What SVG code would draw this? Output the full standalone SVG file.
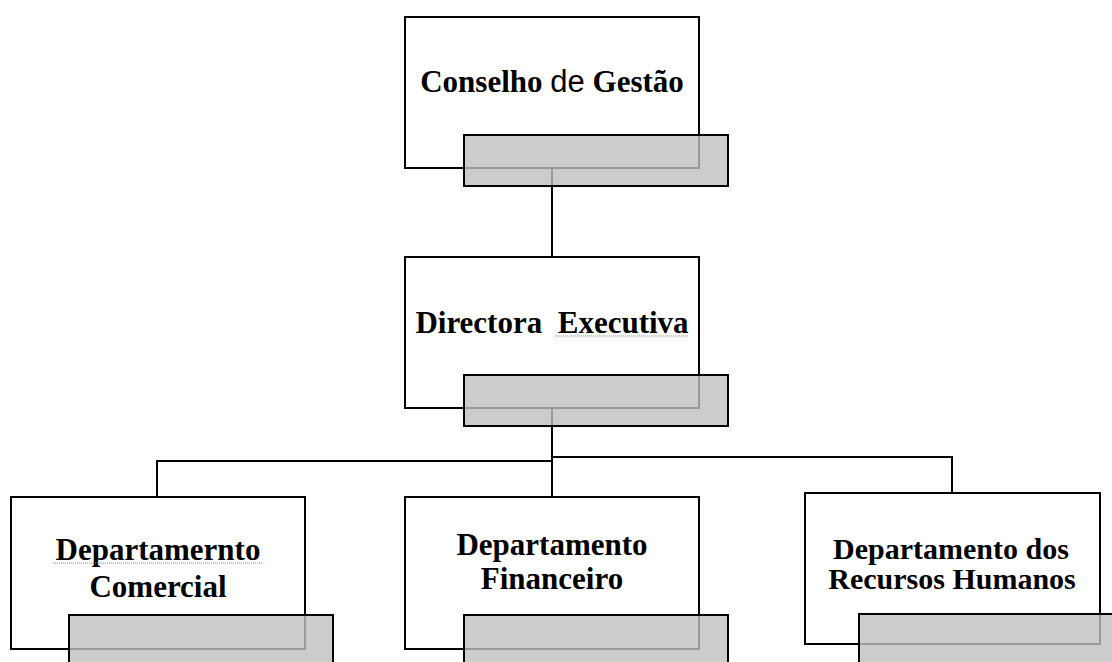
<svg xmlns="http://www.w3.org/2000/svg" width="1112" height="662" viewBox="0 0 1112 662">
<style>
.box{fill:#ffffff;stroke:#000;stroke-width:2}
.tab{fill:#bfbfbf;fill-opacity:0.8;stroke:#000;stroke-width:2}
.conn{fill:none;stroke:#000;stroke-width:2}
.lbl{font-family:"Liberation Serif","Times New Roman",serif;font-weight:bold;font-size:31px;fill:#000;text-anchor:middle}
.sm{font-size:30px}
.sans{font-family:"Liberation Sans",Arial,sans-serif;font-weight:normal}
.spell{stroke:#f06060;stroke-width:1.2;stroke-dasharray:1 1;fill:none}
</style>
<rect width="1112" height="662" fill="#ffffff"/>
<g id="connectors">
<path class="conn" d="M552 168 V257"/>
<path class="conn" d="M552 408 V497"/>
<path class="conn" d="M552 461 H157 V497"/>
<path class="conn" d="M552 457 H952 V493"/>
</g>
<g id="conselho">
<rect class="box" x="405" y="17" width="294" height="151"/>
<text class="lbl" x="552" y="92">Conselho <tspan class="sans">de</tspan> Gestão</text>
<rect class="tab" x="464" y="135" width="264" height="51"/>
</g>
<g id="directora">
<rect class="box" x="405" y="257" width="294" height="151"/>
<text class="lbl" x="552" y="333" xml:space="preserve">Directora  Executiva</text>
<path class="spell" d="M555 336 H688"/>
<rect class="tab" x="464" y="375" width="264" height="51"/>
</g>
<g id="comercial">
<rect class="box" x="11" y="497" width="294" height="152"/>
<text class="lbl" x="158" y="560">Departamernto</text>
<path class="spell" d="M53 563 H262"/>
<text class="lbl" x="158" y="597">Comercial</text>
<rect class="tab" x="69" y="615" width="264" height="51"/>
</g>
<g id="financeiro">
<rect class="box" x="405" y="497" width="294" height="152"/>
<text class="lbl" x="552" y="555">Departamento</text>
<text class="lbl" x="552" y="589">Financeiro</text>
<rect class="tab" x="464" y="615" width="264" height="51"/>
</g>
<g id="recursos">
<rect class="box" x="805" y="493" width="295" height="151"/>
<text class="lbl sm" x="951" y="559">Departamento dos</text>
<text class="lbl sm" x="952" y="589">Recursos Humanos</text>
<rect class="tab" x="859" y="614" width="264" height="51"/>
</g>
</svg>
